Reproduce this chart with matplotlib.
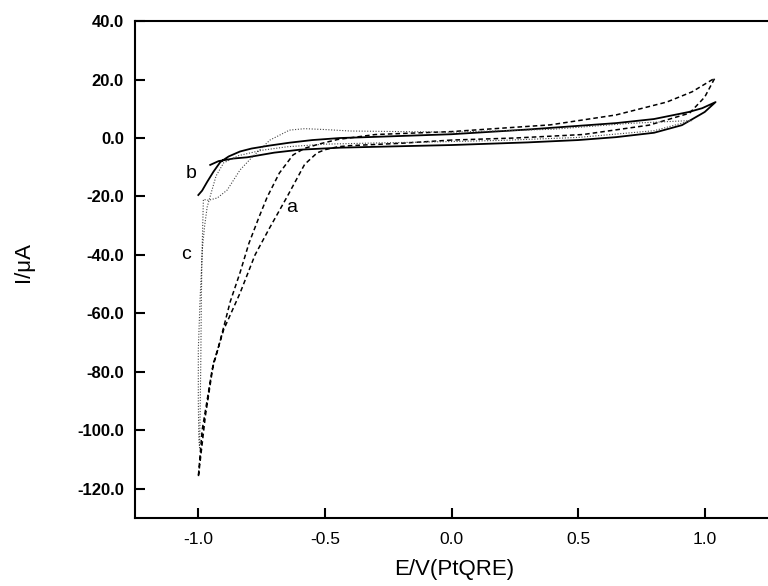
import numpy as np
import matplotlib.pyplot as plt

plt.rcParams['font.family'] = ['Liberation Sans', 'DejaVu Sans']

# curve a (dashed): E/V and I/uA
a_E = [0.00, -0.20, -0.40, -0.45, -0.50, -0.531, -0.58, -0.65, -0.72, -0.776, -0.835, -0.90, -0.94, -0.972, -1.00,
       -0.985, -0.96, -0.945, -0.92, -0.874, -0.835, -0.80, -0.76, -0.728, -0.68, -0.626, -0.58, -0.52, -0.45, -0.30,
       0.00, 0.39, 0.65, 0.85, 0.95, 1.04, 1.00, 0.94, 0.78, 0.52, 0.25, 0.00]
a_I = [-0.7, -1.8, -2.6, -3.0, -4.0, -5.1, -9.0, -20.2, -31.0, -40.0, -53.0, -65.6, -77.0, -95.0, -116.0,
       -100.0, -87.0, -79.0, -71.5, -56.0, -46.0, -36.0, -27.0, -20.2, -12.0, -5.8, -3.5, -2.0, -0.5, 1.2,
       2.2, 4.5, 7.9, 12.3, 15.8, 20.5, 14.0, 8.5, 4.4, 1.2, 0.0, -0.7]

# curve b (solid)
b_E = [-0.953, -0.92, -0.86, -0.807, -0.70, -0.60, -0.44, -0.20, 0.00, 0.30, 0.50, 0.65, 0.80, 0.91, 1.00, 1.043,
       0.99, 0.937, 0.80, 0.65, 0.30, 0.00, -0.30, -0.44, -0.55, -0.64, -0.72, -0.79, -0.835, -0.88, -0.913,
       -0.94, -0.965, -0.985, -1.00]
b_I = [-9.2, -7.9, -7.0, -6.6, -5.0, -4.0, -3.3, -2.8, -2.4, -1.5, -0.7, 0.3, 1.8, 4.4, 8.9, 12.3,
       10.2, 8.9, 6.5, 5.1, 2.9, 1.3, 0.4, 0.0, -0.7, -1.6, -2.6, -3.6, -4.6, -6.3, -8.2,
       -11.5, -15.0, -18.0, -19.5]

# curve c (dotted)
c_E = [0.95, 0.80, 0.50, 0.20, 0.00, -0.30, -0.50, -0.65, -0.75, -0.84, -0.90, -0.93, -0.95, -0.965, -0.975,
       -0.984, -0.993, -1.00, -1.00, -0.998, -0.995, -0.993, -0.99, -0.988, -0.985, -0.982, -0.98, -0.96, -0.925,
       -0.886, -0.835, -0.787, -0.717, -0.64, -0.58, -0.50, -0.40, 0.00, 0.40, 0.70, 0.95]
c_I = [6.0, 2.5, 0.2, -0.8, -1.2, -1.7, -2.1, -3.0, -4.2, -6.0, -8.5, -13.0, -19.0, -23.6, -30.0,
       -38.0, -55.0, -72.5, -90.0, -103.0, -106.0, -95.0, -75.0, -55.0, -38.0, -28.0, -21.0, -21.3, -20.5,
       -17.8, -10.9, -6.5, -0.7, 2.7, 3.2, 2.9, 2.4, 2.0, 3.0, 5.0, 6.0]

curve_labels = ['a', 'b', 'c']
label_E = [-0.63, -1.03, -1.05]
label_I = [-23.6, -12.0, -40.0]

xticks = [-1.0, -0.5, 0.0, 0.5, 1.0]
yticks = [-120, -100, -80, -60, -40, -20, 0, 20, 40]

fig = plt.figure(figsize=(7.68, 5.86), dpi=100)
ax = fig.add_axes([0.1758, 0.116, 0.8242, 0.848])

ax.plot(a_E, a_I, color='black', lw=1.1, linestyle=(0, (3, 2)))
ax.plot(b_E, b_I, color='black', lw=1.3, linestyle='-')
ax.plot(c_E, c_I, color='#444444', lw=0.8, linestyle=(0, (1, 1.5)))

for t, xe, yi in zip(curve_labels, label_E, label_I):
    ax.text(xe, yi, t, fontsize=14, ha='center', va='center')

ax.set_xlim(-1.25, 1.25)
ax.set_ylim(-130, 40)
ax.set_xticks(xticks)
ax.set_yticks(yticks)
ax.set_xticklabels(['%.1f' % v for v in xticks], fontsize=12.5)
ax.set_yticklabels(['%.1f' % v for v in yticks], fontsize=12, fontweight='bold')

ax.spines['right'].set_visible(False)
for s in ['left', 'bottom', 'top']:
    ax.spines[s].set_linewidth(1.5)
ax.tick_params(axis='both', direction='in', length=7, width=1.5, top=False, right=False)
ax.tick_params(axis='y', pad=8)
ax.tick_params(axis='x', pad=10)

ax.set_xlabel('E/V(PtQRE)', fontsize=16)
ax.set_ylabel('I/μA', fontsize=16)
ax.xaxis.set_label_coords(0.505, -0.083)
ax.yaxis.set_label_coords(-0.16, 0.515)

fig.savefig('out.png', dpi=100)
